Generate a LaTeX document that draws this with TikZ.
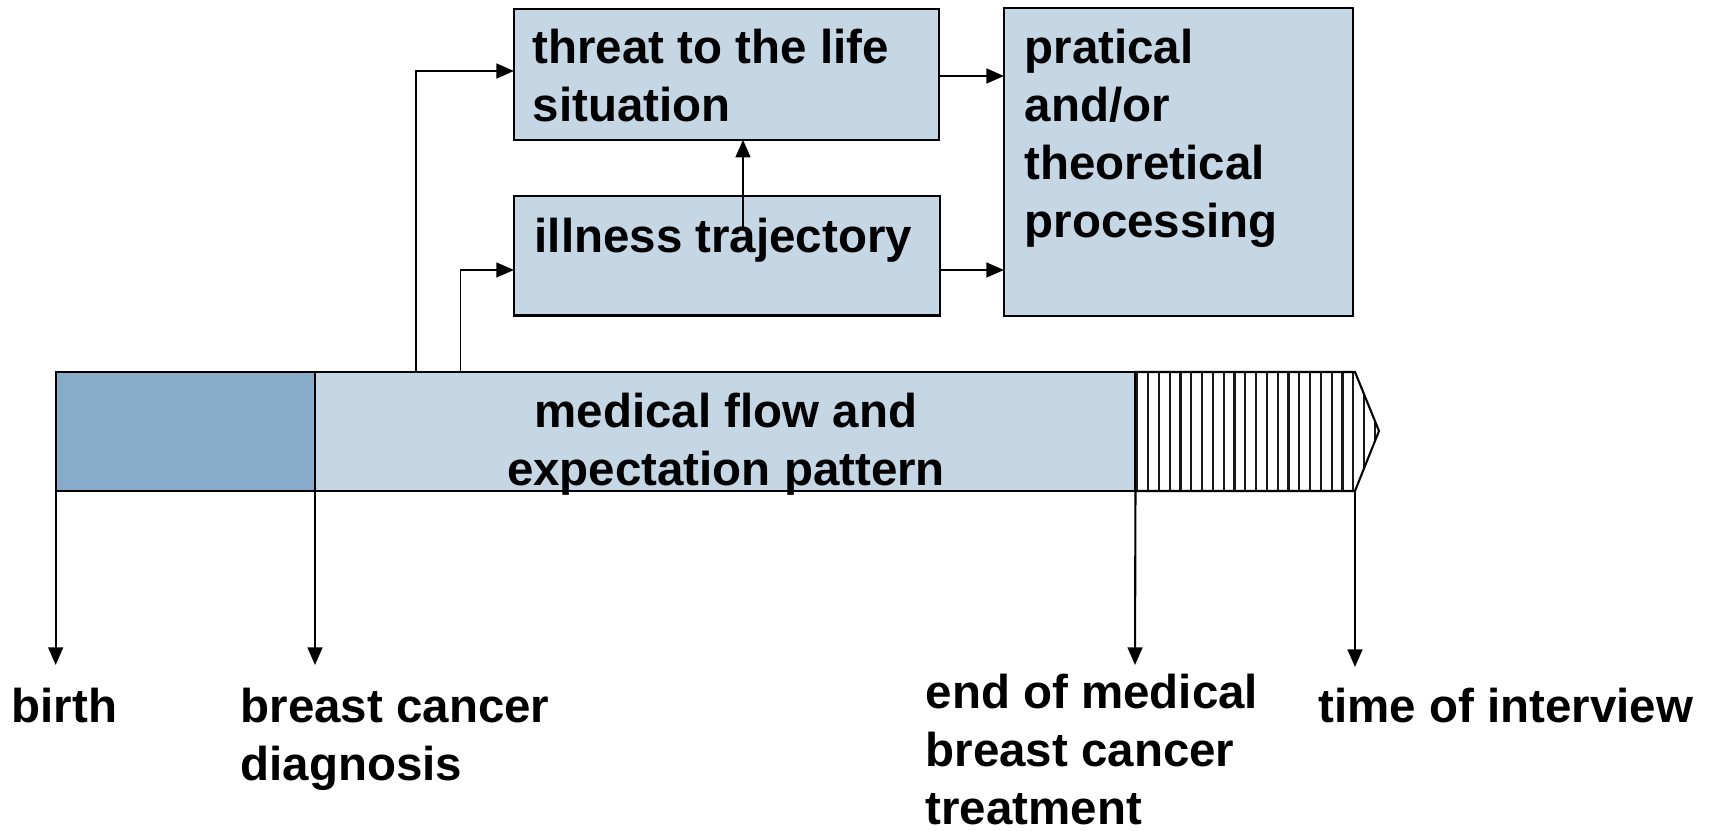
\documentclass[tikz,border=0pt]{standalone}
\usepackage{fontspec}
\setmainfont{Liberation Sans}
\usetikzlibrary{arrows.meta}

\definecolor{bardark}{RGB}{137,171,202}
\definecolor{boxfill}{RGB}{197,214,228}

\begin{document}
\begin{tikzpicture}
[x=0.01cm,y=-0.01cm,
box/.style={draw=black,line width=0.6pt,fill=boxfill,inner sep=0pt,outer sep=0pt,anchor=north west},
lbl/.style={font=\fontsize{13.5}{16.5}\selectfont\bfseries,inner sep=0pt,align=left,anchor=base west},
flow/.style={line width=0.6pt,-{Triangle[length=5pt,width=4.2pt]}}]

\useasboundingbox (0,0) rectangle (1711,831);

% upper boxes
\node[box,minimum width=4.25cm,minimum height=1.31cm] (threat) at (514,8.7) {};
\node[box,minimum width=4.255cm,minimum height=1.19cm] (illness) at (514,196.4) {};
\node[box,minimum width=3.49cm,minimum height=3.078cm] (proc) at (1004,7.6) {};

% (base = last line)
\node[lbl] (threattxt) at (532,122) {threat to the life\\situation};
\node[lbl] (illtxt) at (534,253) {illness trajectory};
\node[lbl] (proctxt) at (1024,238) {pratical\\and/or\\theoretical\\processing};

% time bar
\node[box,fill=bardark,minimum width=2.593cm,minimum height=1.19cm] (birthbar) at (55.7,372) {};
\node[box,minimum width=8.2cm,minimum height=1.19cm] (medbar) at (315,372) {};

\begin{scope}
\clip (1135,372) -- (1355,372) -- (1379,431) -- (1355,491) -- (1135,491) -- cycle;
\foreach \i in {0,...,22}
  \draw[line width=0.65pt,black!90] (1137.3+10.8*\i,360) -- ++(0,140);
\end{scope}
\draw[line width=0.6pt] (1135,372) -- (1355,372) -- (1379,431) -- (1355,491) -- (1135,491);
\coordinate (tip) at (1355,491);

\node[lbl,align=center,anchor=base] (medtxt) at (726,486) {medical flow and\\expectation pattern};

% connectors
\coordinate (tapA) at (416,372);
\coordinate (tapB) at (460.5,372);
\coordinate (trajA) at (743,229);

\draw[flow] (tapA) |- (threat.west |- 0,71);
\draw[flow,line width=0.45pt] (tapB) |- (illness.west |- 0,270);
\draw[flow] (trajA) -- (trajA |- threat.south);
\draw[flow] (threat.east |- 0,76) -- (proc.west |- 0,76);
\draw[flow] (illness.east |- 0,270) -- (proc.west |- 0,270);

% time points
\coordinate (birthend) at (55.7,665);
\coordinate (diagend) at (315,665);
\coordinate (treatend) at (1135,665);
\coordinate (interend) at (1355,667);

\draw[flow] (birthbar.south west) -- (birthend);
\draw[flow] (medbar.south west) -- (diagend);
\draw[flow] (medbar.south east) -- (treatend);
\draw[flow] (tip) -- (interend);

\node[lbl] (birth) at (11,723) {birth};
\node[lbl] (diag) at (240,781) {breast cancer\\diagnosis};
\node[lbl] (endtreat) at (925,825) {end of medical\\breast cancer\\treatment};
\node[lbl] (interview) at (1318,723) {time of interview};
\end{tikzpicture}
\end{document}
